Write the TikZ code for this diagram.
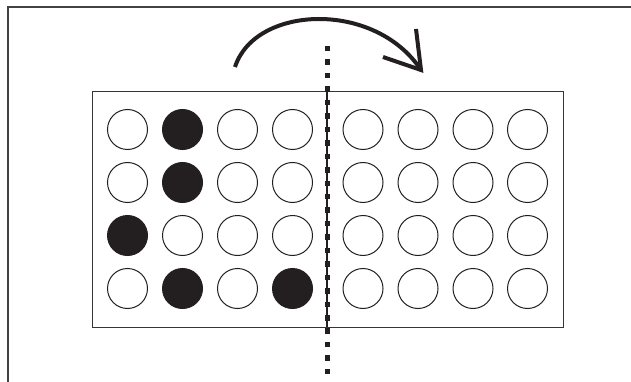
\documentclass[tikz,border=0pt]{standalone}
\usetikzlibrary{calc}
\definecolor{ink}{HTML}{231F20}
\begin{document}
\begin{tikzpicture}[x=1pt,y=-1pt,
  frameline/.style={draw=ink!85,line width=1.1pt},
  plate/.style={draw=ink!90,line width=1.4pt},
  well/.style={draw=ink,line width=1pt,fill=white},
  filled/.style={draw=ink,line width=1pt,fill=ink},
  foldline/.style={draw=ink,line width=5pt,dash pattern=on 5.5pt off 7.95pt},
  flip/.style={draw=ink,line width=4pt}]
\useasboundingbox (0,0) rectangle (631,382);
% frame
\coordinate (fTR) at (631,7);
\coordinate (fTL) at (8,7);
\coordinate (fBL) at (8,382);
\draw[frameline] (fTR) -- (fTL) -- (fBL);
% plate
\node[plate,minimum width=471pt,minimum height=236pt,inner sep=0pt,anchor=north west] (plate) at (92,91) {};
% divider
\coordinate (dT) at (327,91);
\coordinate (dB) at (327,327);
\draw[ink,line width=1.2pt] (dT) -- (dB);
% wells
\foreach \c/\x in {1/127.5,2/182.5,3/237.5,4/292.5,5/363,6/418,7/473,8/527.5}{
  \foreach \r/\y in {1/129.5,2/182.5,3/235.5,4/288.5}{
    \def\st{well}
    \ifnum\c=2 \ifnum\r<3 \def\st{filled}\fi\ifnum\r=4 \def\st{filled}\fi\fi
    \ifnum\c=1 \ifnum\r=3 \def\st{filled}\fi\fi
    \ifnum\c=4 \ifnum\r=4 \def\st{filled}\fi\fi
    \node[\st,circle,minimum size=40pt,inner sep=0pt] (w\r\c) at (\x,\y) {};
  }
}
% fold line
\coordinate (lT) at (327,46);
\coordinate (lB) at (327,376);
\draw[foldline] (lT) -- (lB);
% flip arrow
\coordinate (aS) at (235,67);
\coordinate (aE) at (421,70);
\coordinate (b1) at (416,29);
\coordinate (b2) at (383,57);
\draw[flip] (aS) .. controls (255,5) and (375,0) .. (aE);
\draw[flip,miter limit=10] (b1) -- (aE) -- (b2);
\end{tikzpicture}
\end{document}
